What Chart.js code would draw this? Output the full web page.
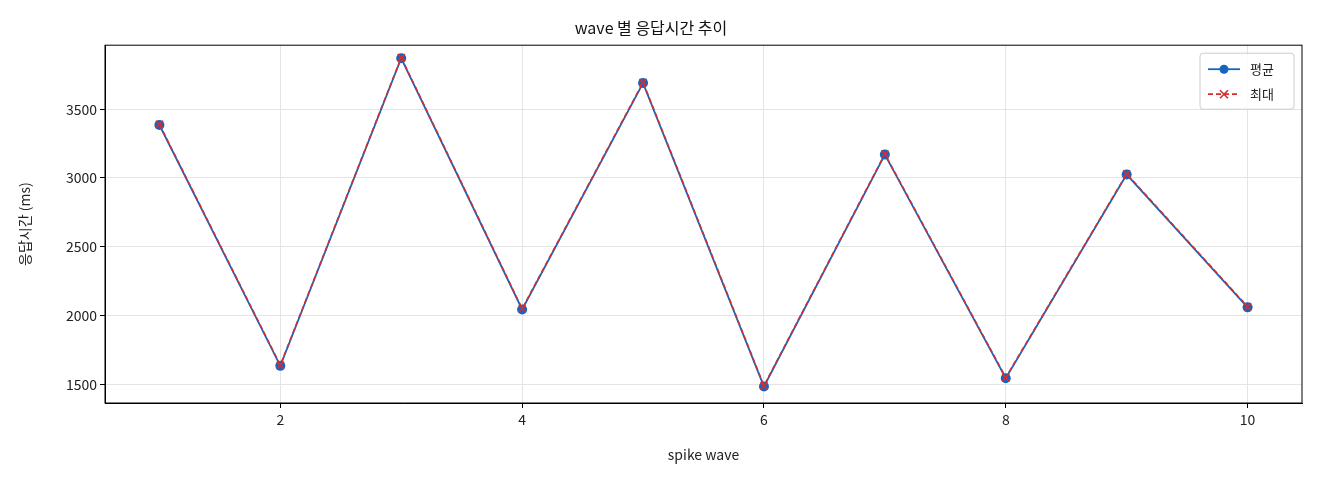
<!DOCTYPE html>
<html><head><meta charset="utf-8">
<script src="https://cdn.jsdelivr.net/npm/chart.js@4"></script>
<style>body{margin:0;background:#fff}#w{width:1320px;height:480px}</style>
</head><body><div id="w"><canvas id="c"></canvas></div>
<script>
const waves=[1,2,3,4,5,6,7,8,9,10];
const avgMs=[3385,1635,3870,2045,3690,1485,3170,1545,3025,2060];
const maxMs=[3390,1640,3875,2050,3695,1490,3175,1550,3030,2065];
const xTicks=[2,4,6,8,10];
const yTicks=[1500,2000,2500,3000,3500];
const F='"Noto Sans CJK KR", "Noto Sans", sans-serif';
Chart.defaults.font.family=F;Chart.defaults.color='#222';
const legendPlugin={id:'ileg',afterDraw(ch){const c=ch.ctx,a=ch.chartArea;const w=94,h=56,x=a.right-w-8,y=a.top+8;
c.save();c.fillStyle='rgba(255,255,255,0.85)';c.strokeStyle='#ccc';c.lineWidth=1;c.beginPath();c.roundRect(x,y,w,h,3);c.fill();c.stroke();
ch.data.datasets.forEach((d,i)=>{const ly=y+16+i*25;c.strokeStyle=d.borderColor;c.lineWidth=1.8;c.setLineDash(d.borderDash||[]);
c.beginPath();c.moveTo(x+8,ly);c.lineTo(x+40,ly);c.stroke();c.setLineDash([]);
if(d.pointStyle==='circle'){c.fillStyle=d.borderColor;c.beginPath();c.arc(x+24,ly,4.5,0,7);c.fill();}
else{c.lineWidth=1.6;c.beginPath();c.moveTo(x+20,ly-4);c.lineTo(x+28,ly+4);c.moveTo(x+28,ly-4);c.lineTo(x+20,ly+4);c.stroke();}
c.fillStyle='#222';c.font='13px '+F;c.textBaseline='middle';c.fillText(d.label,x+50,ly);});c.restore();}};
new Chart(document.getElementById('c'),{type:'line',
data:{datasets:[
{label:'평균',order:1,data:waves.map((x,i)=>({x,y:avgMs[i]})),borderColor:'#1565c0',backgroundColor:'#1565c0',borderWidth:1.8,pointStyle:'circle',pointRadius:5,pointBorderWidth:0},
{label:'최대',order:0,data:waves.map((x,i)=>({x,y:maxMs[i]})),borderColor:'#d32f2f',backgroundColor:'#d32f2f',borderWidth:1.6,borderDash:[5,3],pointStyle:'cross',rotation:45,pointRadius:5,pointBorderWidth:1.6}]},
options:{responsive:true,maintainAspectRatio:false,animation:false,layout:{padding:{right:18,left:0}},
plugins:{legend:{display:false},tooltip:{enabled:false},title:{display:true,text:'wave 별 응답시간 추이',font:{size:16,weight:'normal'},color:'#111',padding:{top:18,bottom:8}}},
scales:{
x:{type:'linear',min:0.55,max:10.45,afterBuildTicks:s=>{s.ticks=xTicks.map(v=>({value:v}))},afterFit:s=>{s.height=77},
grid:{color:'#e4e4e4',drawTicks:true,tickColor:'#000',tickLength:5},border:{color:'#000'},ticks:{font:{size:14},color:'#222',callback:v=>String(v)},
title:{display:true,text:'spike wave',font:{size:14},color:'#222',padding:{top:17,bottom:17}}},
y:{min:1365,max:3965,afterBuildTicks:s=>{s.ticks=yTicks.map(v=>({value:v}))},afterFit:s=>{s.width=105},
grid:{color:'#e4e4e4',tickColor:'#000',tickLength:5},border:{color:'#000'},ticks:{font:{size:14},color:'#222',callback:v=>String(v)},
title:{display:true,text:'응답시간 (ms)',font:{size:14},color:'#222',padding:{top:16,bottom:16}}}}},
plugins:[legendPlugin,{id:'frame',afterDraw(ch){const c=ch.ctx,a=ch.chartArea;c.save();c.strokeStyle='#000';c.lineWidth=1;c.strokeRect(a.left,a.top,a.right-a.left,a.bottom-a.top);c.restore();}}]});
</script></body></html>
